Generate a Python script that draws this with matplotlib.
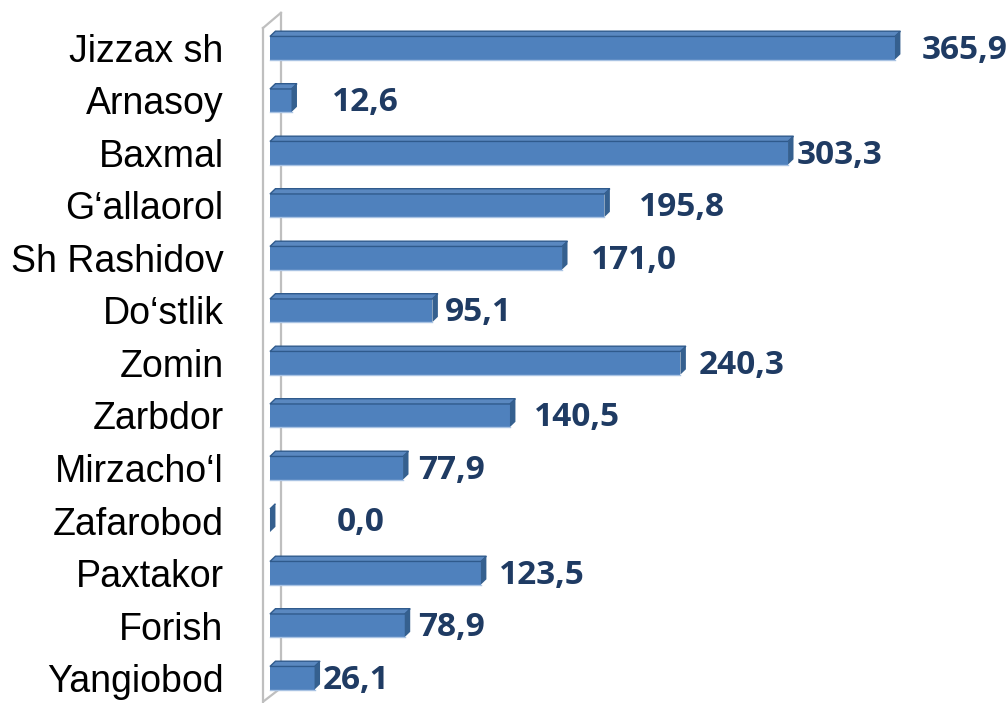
import numpy as np
import matplotlib
matplotlib.use("Agg")
import matplotlib.pyplot as plt
from matplotlib.patches import Polygon
from matplotlib.lines import Line2D

# data
districts = ["Jizzax sh", "Arnasoy", "Baxmal", "G\u2018allaorol", "Sh Rashidov", "Do\u2018stlik",
             "Zomin", "Zarbdor", "Mirzacho\u2018l", "Zafarobod", "Paxtakor", "Forish", "Yangiobod"]
values = [365.9, 12.6, 303.3, 195.8, 171.0, 95.1, 240.3, 140.5, 77.9, 0.0, 123.5, 78.9, 26.1]
value_labels = ["365,9", "12,6", "303,3", "195,8", "171,0", "95,1", "240,3",
                "140,5", "77,9", "0,0", "123,5", "78,9", "26,1"]
# label gap after bar end (points), as Excel placed them
label_gap = [15, 25, 2, 21, 17, 5, 9, 13, 7, 44, 9, 6, 2]

front = "#4F81BD"
top_c = "#5A88C0"
side_c = "#35608F"
edge_dark = "#2F5A8C"
lab_c = "#1F3B63"

fig = plt.figure(figsize=(10.07, 7.03), dpi=100)
ax = fig.add_axes([250 / 1007, 0, 750 / 1007, 1])

y = np.arange(len(values))
bar_h = 0.44
dx, dy = 3.2, 0.10   # 3d depth in data units

ax.barh(y, values, height=bar_h, color=front, edgecolor="none", zorder=3)

for yi, v in zip(y, values):
    y_top = yi - bar_h / 2
    y_bot = yi + bar_h / 2
    # top face
    ax.add_patch(Polygon([(0, y_top), (v, y_top), (v + dx, y_top - dy), (0 + dx, y_top - dy)],
                         closed=True, facecolor=top_c, edgecolor=edge_dark, lw=1.0, zorder=4))
    # right side face
    ax.add_patch(Polygon([(v, y_top), (v + dx, y_top - dy), (v + dx, y_bot - dy), (v, y_bot)],
                         closed=True, facecolor=side_c, edgecolor="none", zorder=4))
    # faint bottom highlight
    ax.plot([0, v], [y_bot, y_bot], color="#A9C3E3", lw=1.0, zorder=4)

for yi, v, lab, g in zip(y, values, value_labels, label_gap):
    ax.annotate(lab, xy=(v + dx, yi + 0.04), xytext=(g, 0), textcoords="offset points",
                ha="left", va="center", fontsize=24, fontweight="bold",
                color=lab_c, family="Open Sans", zorder=5)

# side wall of the 3d chart
wall = "#BFBFBF"
for xs, ys in [([-4.1, -4.1], [-0.38, 12.5]),
               ([6.4, 6.4], [-0.67, 12.19]),
               ([-4.1, 6.4], [-0.38, -0.67]),
               ([6.4, -3.2], [12.19, 12.43])]:
    ax.add_line(Line2D(xs, ys, color=wall, lw=1.6, zorder=1, clip_on=False))

ax.set_xlim(-11.7, 427.4)
ax.set_ylim(12.476, -0.914)
ax.set_yticks(y)
ax.set_yticklabels(districts, fontsize=27, family="Liberation Sans")
ax.tick_params(axis="y", length=0, pad=19)
ax.set_xticks([])
for s in ax.spines.values():
    s.set_visible(False)
ax.patch.set_alpha(0)

fig.savefig("out.png", dpi=100)
